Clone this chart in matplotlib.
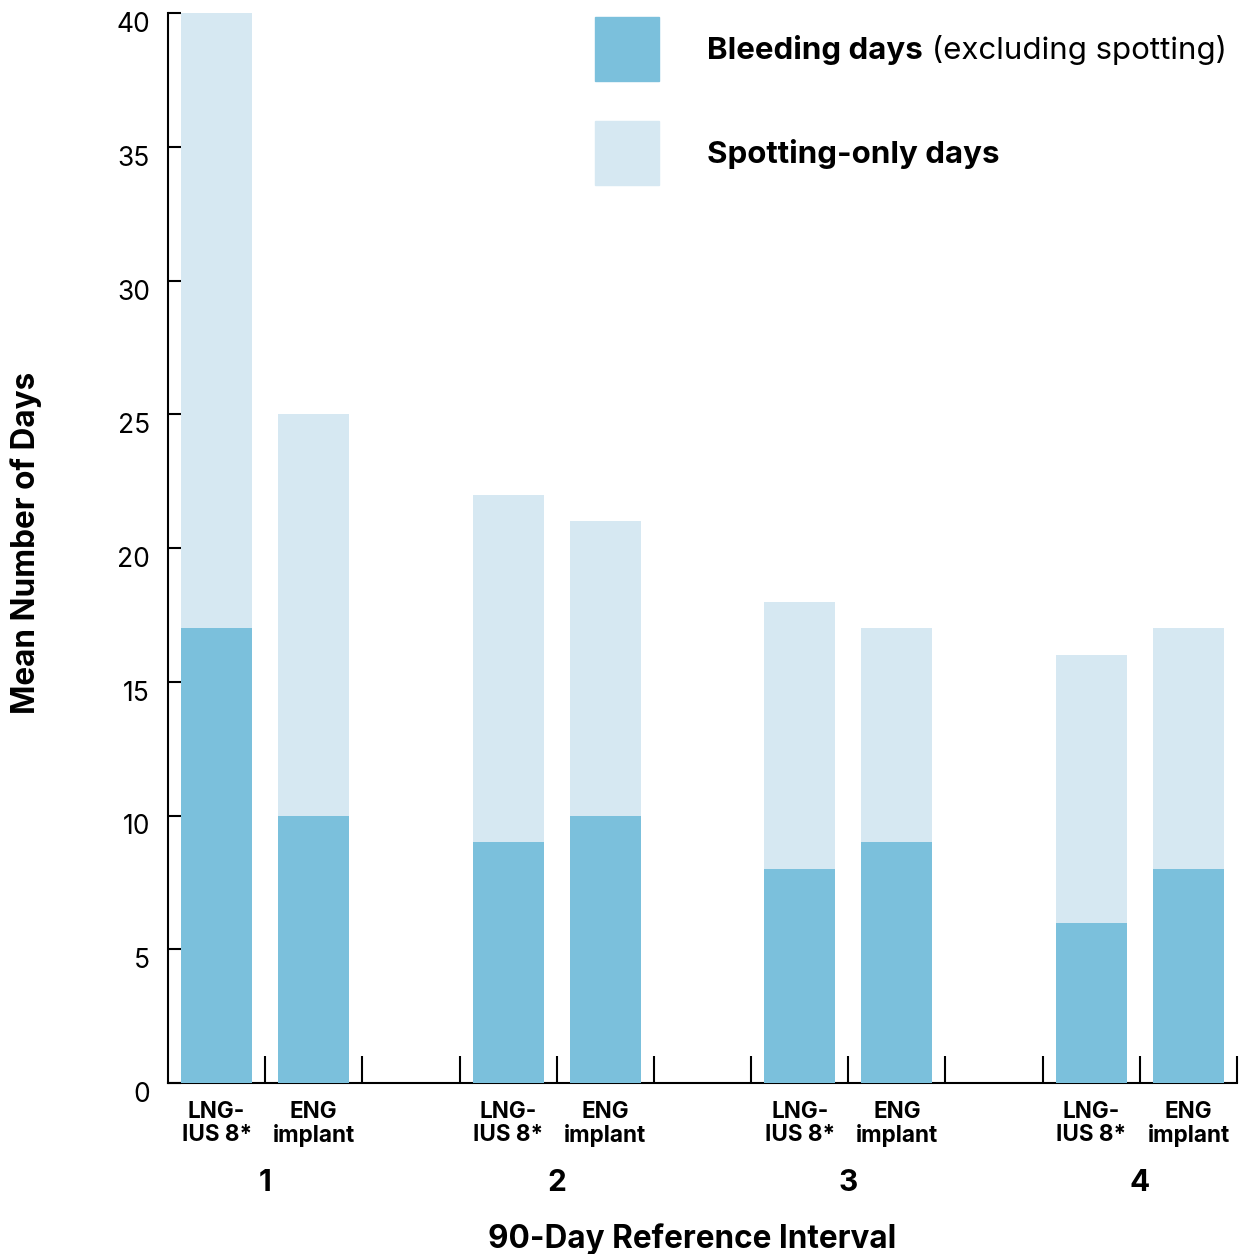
import numpy as np
import matplotlib
matplotlib.use('Agg')
import matplotlib.pyplot as plt
import matplotlib.transforms as mtransforms
from matplotlib.patches import Rectangle

plt.rcParams['font.family'] = ['Inter', 'DejaVu Sans']

# data
intervals = ['1', '2', '3', '4']
devices = ['LNG-\nIUS 8*', 'ENG\nimplant']
bleeding = [17, 10, 9, 10, 8, 9, 6, 8]
spotting = [23, 15, 13, 11, 10, 8, 10, 9]
yticks = [0, 5, 10, 15, 20, 25, 30, 35, 40]

dark = '#7BC0DC'
light = '#D6E8F2'

fig = plt.figure(figsize=(12.4, 12.54), dpi=100)
ax = fig.add_axes([168/1240, 1 - 1083/1254, 1069/1240, 1070/1254])

# bar slots: two bars per interval, one empty slot between intervals
pos = []
for g in range(len(intervals)):
    pos += [g*3, g*3 + 1]
pos = np.array(pos)

ax.bar(pos, bleeding, width=0.73, color=dark, zorder=3)
ax.bar(pos, spotting, width=0.73, bottom=bleeding, color=light, zorder=3)

ax.set_xlim(-0.5, pos[-1] + 0.5)
ax.set_ylim(0, 40)

for s in ['top', 'right']:
    ax.spines[s].set_visible(False)
for s in ['left', 'bottom']:
    ax.spines[s].set_linewidth(1.5)

# y axis
ax.set_yticks(yticks)
ax.tick_params(axis='y', direction='in', length=9.5, width=1.5, pad=13, labelsize=19)
off = mtransforms.ScaledTranslation(0, -9/100, fig.dpi_scale_trans)
for lab in ax.get_yticklabels():
    lab.set_transform(lab.get_transform() + off)

# x axis: device labels under bars, tick marks between slots
ax.set_xticks(pos)
ax.set_xticklabels(devices * len(intervals), fontsize=16.2, fontweight='bold', linespacing=1.05)
ax.tick_params(axis='x', which='major', length=0, pad=13)
ax.set_xticks(np.arange(-0.5, pos[-1] + 1, 1)[1:], minor=True)
ax.tick_params(axis='x', which='minor', direction='in', length=19.5, width=1.5)

# interval numbers
for g, name in enumerate(intervals):
    ax.text(g*3 + 0.5, -0.0935, name, transform=ax.get_xaxis_transform(),
            ha='center', va='center', fontsize=21.5, fontweight='bold')

ax.set_xlabel('90-Day Reference Interval', fontsize=22.7, fontweight='bold')
ax.xaxis.set_label_coords(0.49, -0.131)
ax.set_ylabel('Mean Number of Days', fontsize=22.7, fontweight='bold')
ax.yaxis.set_label_coords(-0.118, 0.505)

# legend
for y0, c in [(1 - 81/1254, dark), (1 - 185/1254, light)]:
    fig.add_artist(Rectangle((595/1240, y0), 64/1240, 64/1254, color=c,
                             transform=fig.transFigure))
t1 = fig.text(707/1240, 1 - 50/1254, 'Bleeding days', fontsize=22.5, fontweight='bold',
              va='center')
fig.text(707/1240, 1 - 154/1254, 'Spotting-only days', fontsize=22.5, fontweight='bold',
         va='center')
plt.annotate(' (excluding spotting)', xy=(1, 0.5), xycoords=t1, va='center',
             fontsize=22.5)

fig.savefig('out.png', dpi=100)
